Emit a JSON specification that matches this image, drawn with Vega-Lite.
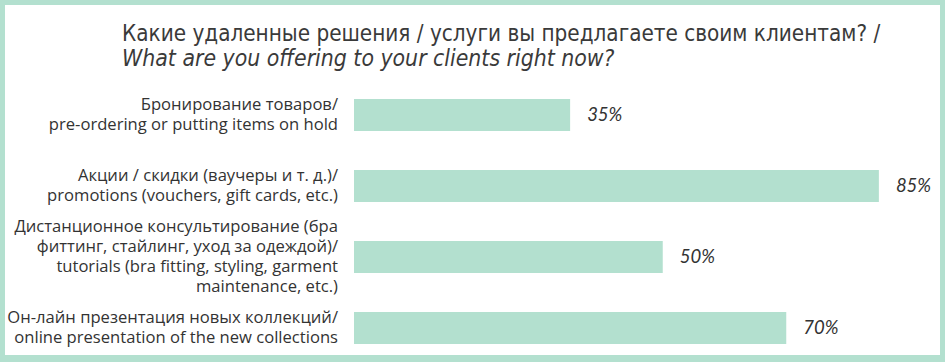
{
  "$schema": "https://vega.github.io/schema/vega-lite/v6.json",
  "width": 935,
  "height": 350,
  "autosize": {"type": "none"},
  "padding": {"left": 5, "top": 5, "right": 5, "bottom": 7},
  "background": "#b3e0cf",
  "config": {
    "view": {"fill": "white", "stroke": null}
  },
  "title": {
    "text": "Какие удаленные решения / услуги вы предлагаете своим клиентам? /",
    "subtitle": "What are you offering to your clients right now?",
    "anchor": "start",
    "frame": "group",
    "orient": "top",
    "baseline": "top",
    "offset": -66,
    "dx": 117,
    "font": "DejaVu Sans Condensed",
    "fontSize": 22.3,
    "fontWeight": "normal",
    "color": "#3a3a3a",
    "subtitleFont": "DejaVu Sans Condensed",
    "subtitleFontSize": 22.8,
    "subtitleFontStyle": "italic",
    "subtitleColor": "#3a3a3a",
    "subtitlePadding": 3
  },
  "data": {
    "values": [
      {"name": "a", "lines": ["Бронирование товаров/", "pre-ordering or putting items on hold"], "value": 0.35},
      {"name": "b", "lines": ["Акции / скидки (ваучеры и т. д.)/", "promotions (vouchers, gift cards, etc.)"], "value": 0.85},
      {"name": "c", "lines": ["Дистанционное консультирование (бра", "фиттинг, стайлинг, уход за одеждой)/", "tutorials (bra fitting, styling, garment ", "maintenance, etc.)"], "value": 0.5},
      {"name": "d", "lines": ["Он-лайн презентация новых коллекций/", "online presentation of the new collections"], "value": 0.7}
    ]
  },
  "encoding": {
    "y": {
      "field": "name",
      "type": "nominal",
      "sort": null,
      "axis": null,
      "scale": {"range": [74.5, 358.5], "paddingInner": 0.549, "paddingOuter": 0.2745}
    }
  },
  "layer": [
    {
      "mark": {"type": "bar", "color": "#b3e0cf"},
      "encoding": {
        "x": {
          "field": "value",
          "type": "quantitative",
          "axis": null,
          "scale": {"domain": [0, 1], "range": [349, 966.5]}
        }
      }
    },
    {
      "mark": {"type": "text", "align": "left", "baseline": "middle", "dx": 17, "font": "Lato", "fontStyle": "italic", "fontSize": 18.5, "color": "#333333"},
      "encoding": {
        "x": {"field": "value", "type": "quantitative"},
        "text": {"field": "value", "type": "quantitative", "format": ".0%"}
      }
    },
    {
      "mark": {"type": "text", "align": "right", "baseline": "middle", "dx": -16, "dy": {"expr": "-10 * (length(datum.lines) - 1)"}, "lineHeight": 20, "font": "Open Sans", "fontSize": 16.6, "color": "#333333"},
      "encoding": {
        "x": {"datum": 0, "type": "quantitative"},
        "text": {"field": "lines"}
      }
    }
  ]
}
